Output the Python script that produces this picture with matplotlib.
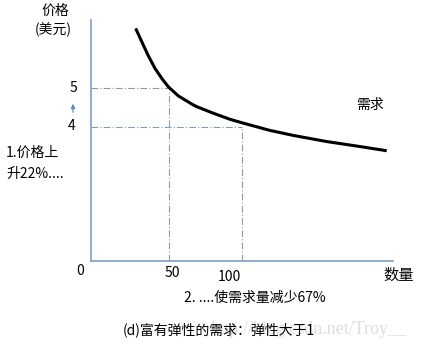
import matplotlib
matplotlib.use("Agg")
import matplotlib.pyplot as plt

plt.rcParams['font.family'] = ['Noto Sans CJK SC', 'DejaVu Sans']

# Demand curve (quantity, price)
quantity = [27.2, 31.3, 35.8, 40.4, 45.0, 49.5, 56.4, 65.5, 69.0, 80.3, 91.8, 100.9,
            119.2, 135.1, 158.0, 180.8, 199.1]
price = [6.56, 6.22, 5.85, 5.52, 5.26, 5.04, 4.80, 4.59, 4.52, 4.35, 4.19, 4.09,
         3.90, 3.77, 3.61, 3.48, 3.37]

ref_q = [50, 100]
ref_p = [5, 4]
price_ticks = ["5", "4"]
qty_ticks = ["50", "100"]

W, H = 429, 352
fig = plt.figure(figsize=(W / 100, H / 100), dpi=100)
fig.patch.set_facecolor('white')

def px(x, y):
    return x / W, 1 - y / H

ax = fig.add_axes([91 / W, 1 - 261 / H, 302 / W, 241 / H])
ax.set_xlim(-3.4, 203.4)
ax.set_ylim(0.495, 6.78)
for s in ['top', 'right']:
    ax.spines[s].set_visible(False)
axis_col = '#8aa6c4'
for s in ['left', 'bottom']:
    ax.spines[s].set_color(axis_col)
    ax.spines[s].set_linewidth(1.3)
ax.set_xticks([])
ax.set_yticks([])

ref_col = '#7e9cbb'
for q, p in zip(ref_q, ref_p):
    ax.plot([-3.4, q], [p, p], color=ref_col, lw=0.8, ls=(0, (6, 2, 1, 2)))
    ax.plot([q, q], [0.495, p], color=ref_col, lw=0.8, ls=(0, (6, 2, 1, 2)))

ax.plot(quantity, price, color='black', lw=2.2, solid_capstyle='butt',
        solid_joinstyle='round')

# price tick labels
fs = 10
fig.text(*px(73, 88), price_ticks[0], ha='center', va='center', fontsize=fs)
fig.text(*px(72, 126), price_ticks[1], ha='center', va='center', fontsize=fs)
fig.text(*px(80, 271), "0", ha='center', va='center', fontsize=fs)
fig.text(*px(172, 273), qty_ticks[0], ha='center', va='center', fontsize=fs)
fig.text(*px(229, 277), qty_ticks[1], ha='center', va='center', fontsize=fs)

# arrow between 4 and 5
fig.add_artist(matplotlib.patches.FancyArrowPatch(px(73, 115), px(73, 101),
               transform=fig.transFigure, arrowstyle='-|>', mutation_scale=6,
               color='#5b8bc4', lw=0.9))

fig.text(*px(55, 11), "价格", ha='center', va='center', fontsize=fs)
fig.text(*px(53, 30), "(美元)", ha='center', va='center', fontsize=fs)
fig.text(*px(6, 153), "1.价格上", ha='left', va='center', fontsize=fs)
fig.text(*px(6, 174), "升22%....", ha='left', va='center', fontsize=fs)
fig.text(*px(370, 105), "需求", ha='center', va='center', fontsize=fs)
fig.text(*px(399, 275), "数量", ha='center', va='center', fontsize=11)
fig.text(*px(255, 298), "2. ....使需求量减少67%", ha='center', va='center', fontsize=fs)

fig.text(*px(407, 330), "http://blog.csdn.net/Troy__", ha='right', va='center',
         fontsize=13, color='#dedede', family='Liberation Serif', zorder=0)
fig.text(*px(219, 330), "(d)富有弹性的需求：弹性大于1", ha='center', va='center',
         fontsize=fs, zorder=5)

fig.savefig('out.png', dpi=100, facecolor='white')
